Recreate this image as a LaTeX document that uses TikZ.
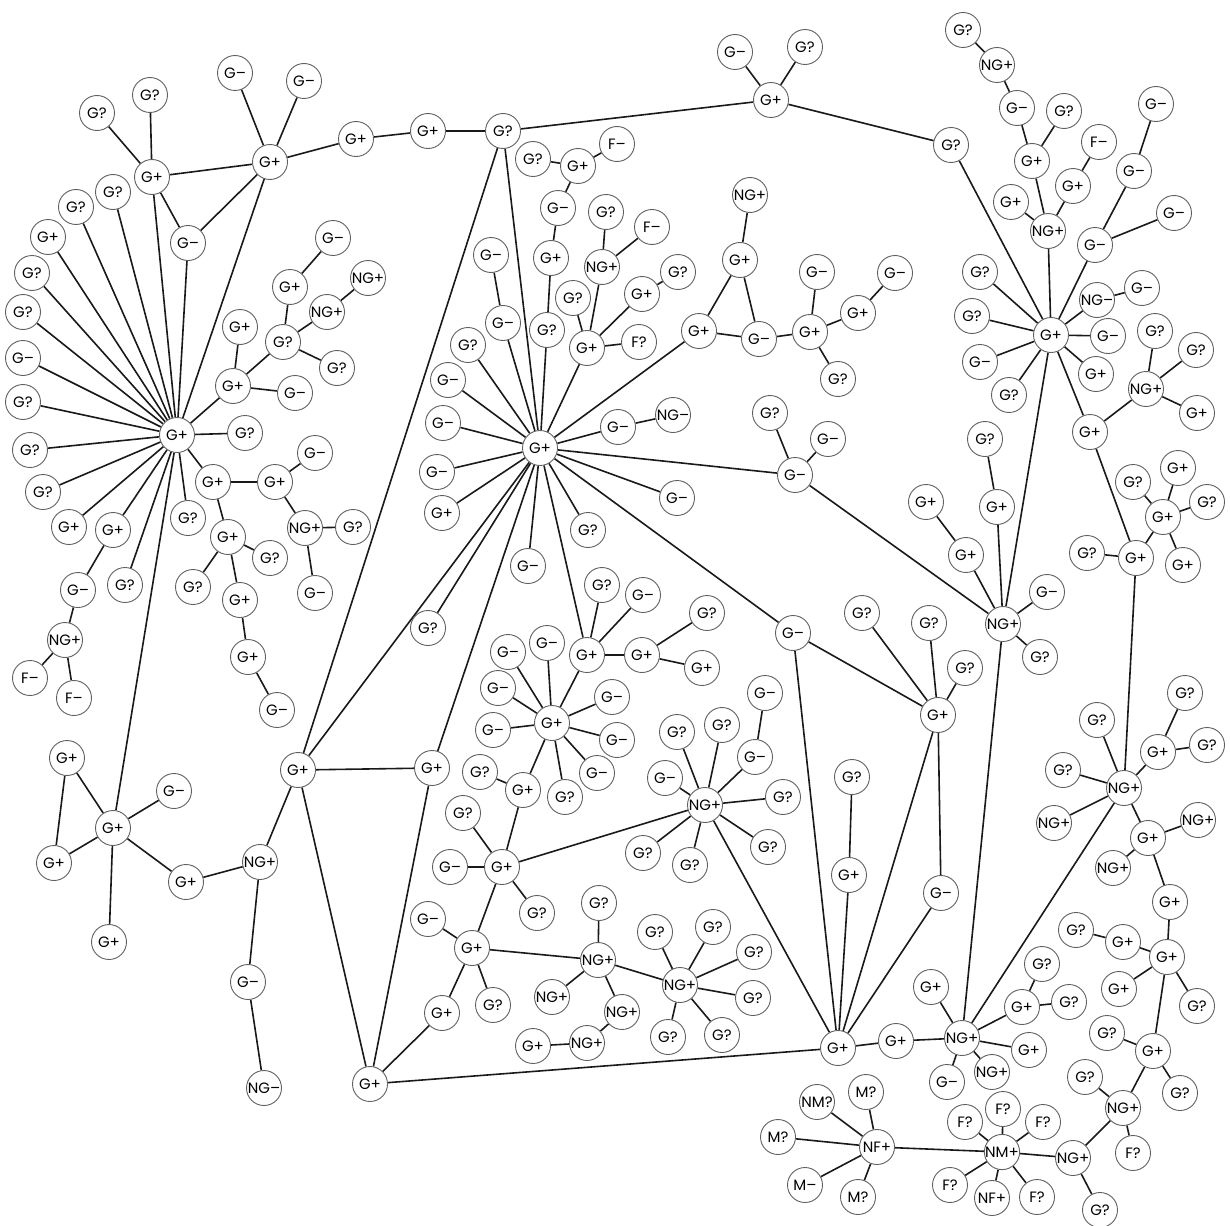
\documentclass[tikz,border=0pt]{standalone}
\usepackage{fontspec}
\setmainfont{Poppins}
\usetikzlibrary{backgrounds}

\begin{document}
\begin{tikzpicture}[x=1pt,y=-1pt,
  every node/.style={circle,draw=gray!75!black,line width=0.9pt,fill=white,minimum size=35pt,inner sep=0pt,font=\fontsize{15}{15}\selectfont},
  link/.style={line width=1.6pt,black!90}]
  \useasboundingbox (0,0) rectangle (1230,1225);
  % top left
  \node (a1) at (152,177) {G+};
  \node (a2) at (270,162) {G+};
  \node (aq1) at (97,113) {G?};
  \node (aq2) at (150,95) {G?};
  \node (am1) at (235,73) {G–};
  \node (am2) at (304,81) {G–};
  \node (am3) at (188,243) {G–};
  \node (ap1) at (356,139) {G+};
  \node (ap2) at (428,131) {G+};
  \node (top) at (503,131) {G?};
  \node (tr) at (771,100) {G+};
  \node (tr1) at (735,52) {G–};
  \node (tr2) at (805,47) {G?};
  \node (tr3) at (951,145) {G?};
  % left hub
  \node (hb) at (177,435) {G+};
  \node (b1) at (113,192) {G?};
  \node (b2) at (76,207) {G?};
  \node (b3) at (48,237) {G+};
  \node (b4) at (32,273) {G?};
  \node (b5) at (23,312) {G?};
  \node (b6) at (23,358) {G–};
  \node (b7) at (23,402) {G?};
  \node (b8) at (30,450) {G?};
  \node (b9) at (43,492) {G?};
  \node (b10) at (69,527) {G+};
  \node (b11) at (113,530) {G+};
  \node (b12) at (125,585) {G?};
  \node (b13) at (188,518) {G?};
  \node (b14) at (245,433) {G?};
  \node (b11a) at (78,590) {G–};
  \node (b11b) at (65,640) {NG+};
  \node (b11c) at (30,678) {F–};
  \node (b11d) at (74,698) {F–};
  \node (r1) at (233,386) {G+};
  \node (r2) at (240,327) {G+};
  \node (r3) at (283,342) {G?};
  \node (r4) at (290,287) {G+};
  \node (r5) at (333,238) {G–};
  \node (r6) at (327,312) {NG+};
  \node (r7) at (368,278) {NG+};
  \node (r8) at (337,368) {G?};
  \node (r9) at (295,393) {G–};
  \node (s1) at (213,482) {G+};
  \node (s2) at (275,482) {G+};
  \node (s3) at (315,453) {G–};
  \node (s4) at (305,528) {NG+};
  \node (s5) at (353,527) {G?};
  \node (s6) at (315,593) {G–};
  \node (s7) at (228,537) {G+};
  \node (s8) at (270,558) {G?};
  \node (s9) at (193,587) {G?};
  \node (s10) at (240,600) {G+};
  \node (s11) at (248,657) {G+};
  \node (s12) at (277,710) {G–};
  % bottom left
  \node (hc) at (113,828) {G+};
  \node (c1) at (67,758) {G+};
  \node (c2) at (54,863) {G+};
  \node (c3) at (174,791) {G–};
  \node (c4) at (186,882) {G+};
  \node (c5) at (109,942) {G+};
  \node (u1) at (260,862) {NG+};
  \node (u2) at (248,982) {G–};
  \node (u3) at (264,1088) {NG–};
  \node (v1) at (298,770) {G+};
  \node (v2) at (432,768) {G+};
  \node (v3) at (370,1084) {G+};
  % centre hub
  \node (hd) at (540,448) {G+};
  \node (d1) at (503,323) {G–};
  \node (d2) at (491,255) {G–};
  \node (d3) at (547,330) {G?};
  \node (d4) at (468,345) {G?};
  \node (d5) at (448,380) {G–};
  \node (d6) at (443,423) {G–};
  \node (d7) at (437,472) {G–};
  \node (d8) at (442,513) {G+};
  \node (d9) at (428,628) {G?};
  \node (d10) at (528,566) {G–};
  \node (d11) at (588,530) {G?};
  \node (d12) at (677,498) {G–};
  \node (d13) at (618,427) {G–};
  \node (d14) at (673,415) {NG–};
  \node (e1) at (551,258) {G+};
  \node (e2) at (558,208) {G–};
  \node (e3) at (578,166) {G+};
  \node (e4) at (533,159) {G?};
  \node (e5) at (617,144) {F–};
  \node (f1) at (587,348) {G+};
  \node (f2) at (639,342) {F?};
  \node (f3) at (573,298) {G?};
  \node (f4) at (602,267) {NG+};
  \node (f5) at (606,212) {G?};
  \node (f6) at (652,227) {F–};
  \node (f7) at (642,294) {G+};
  \node (f8) at (678,272) {G?};
  \node (g1) at (699,331) {G+};
  \node (g2) at (740,260) {G+};
  \node (g3) at (750,195) {NG+};
  \node (g4) at (759,339) {G–};
  \node (g5) at (810,332) {G+};
  \node (g6) at (817,272) {G–};
  \node (g7) at (858,313) {G+};
  \node (g8) at (895,273) {G–};
  \node (g9) at (838,379) {G?};
  \node (k1) at (795,475) {G–};
  \node (k2) at (770,413) {G?};
  \node (k3) at (828,439) {G–};
  \node (k4) at (793,633) {G–};
  % lower centre
  \node (w) at (587,655) {G+};
  \node (w1) at (602,585) {G?};
  \node (w2) at (643,595) {G–};
  \node (w3) at (642,655) {G+};
  \node (w4) at (707,613) {G?};
  \node (w5) at (702,668) {G+};
  \node (he) at (552,723) {G+};
  \node (x1) at (508,652) {G–};
  \node (x2) at (547,643) {G–};
  \node (x3) at (498,688) {G–};
  \node (x4) at (493,730) {G–};
  \node (x5) at (612,697) {G–};
  \node (x6) at (617,740) {G–};
  \node (x7) at (597,773) {G–};
  \node (x8) at (565,797) {G?};
  \node (x9) at (523,790) {G+};
  \node (x10) at (480,772) {G?};
  \node (y0) at (502,867) {G+};
  \node (y1) at (463,813) {G?};
  \node (y2) at (450,867) {G–};
  \node (y3) at (537,913) {G?};
  \node (z0) at (472,948) {G+};
  \node (z1) at (428,919) {G–};
  \node (z2) at (442,1013) {G+};
  \node (z3) at (493,1005) {G?};
  \node (n1) at (598,960) {NG+};
  \node (n2) at (599,903) {G?};
  \node (n3) at (552,997) {NG+};
  \node (n4) at (622,1012) {NG+};
  \node (n5) at (587,1043) {NG+};
  \node (n6) at (533,1046) {G+};
  \node (hm) at (680,985) {NG+};
  \node (m1) at (655,932) {G?};
  \node (m2) at (713,927) {G?};
  \node (m3) at (754,952) {G?};
  \node (m4) at (753,998) {G?};
  \node (m5) at (668,1037) {G?};
  \node (m6) at (722,1035) {G?};
  \node (hj) at (705,805) {NG+};
  \node (j1) at (677,732) {G?};
  \node (j2) at (722,725) {G?};
  \node (j3) at (755,757) {G–};
  \node (j4) at (765,693) {G–};
  \node (j5) at (665,778) {G–};
  \node (j6) at (783,797) {G?};
  \node (j7) at (768,847) {G?};
  \node (j8) at (690,865) {G?};
  \node (j9) at (643,853) {G?};
  \node (hi) at (938,715) {G+};
  \node (i1) at (862,613) {G?};
  \node (i2) at (929,623) {G?};
  \node (i3) at (965,668) {G?};
  \node (i4) at (941,893) {G–};
  \node (o1) at (852,777) {G?};
  \node (o2) at (849,875) {G+};
  \node (hg) at (838,1048) {G+};
  \node (q1) at (896,1041) {G+};
  \node (hn) at (962,1038) {NG+};
  \node (q2) at (931,987) {G+};
  \node (q3) at (1022,1007) {G+};
  \node (q4) at (1042,964) {G?};
  \node (q5) at (1069,1002) {G?};
  \node (q6) at (1029,1050) {G+};
  \node (q7) at (947,1082) {G–};
  \node (q8) at (992,1072) {NG+};
  % right column
  \node (hh) at (1051,335) {G+};
  \node (t1) at (963,30) {G?};
  \node (t2) at (997,65) {NG+};
  \node (t3) at (1017,108) {G–};
  \node (t4) at (1064,111) {G?};
  \node (t5) at (1032,161) {G+};
  \node (t6) at (1099,142) {F–};
  \node (t7) at (1073,186) {G+};
  \node (t8) at (1011,202) {G+};
  \node (t9) at (1048,231) {NG+};
  \node (t10) at (1156,104) {G–};
  \node (t11) at (1134,171) {G–};
  \node (t12) at (1174,213) {G–};
  \node (t13) at (1095,245) {G–};
  \node (h1) at (980,272) {G?};
  \node (h2) at (1097,300) {NG–};
  \node (h3) at (1142,288) {G–};
  \node (h4) at (972,316) {G?};
  \node (h5) at (1108,336) {G–};
  \node (h6) at (980,362) {G–};
  \node (h7) at (1009,395) {G?};
  \node (h8) at (1096,374) {G+};
  \node (h9) at (1090,432) {G+};
  \node (h10) at (1146,389) {NG+};
  \node (h11) at (1155,331) {G?};
  \node (h12) at (1196,350) {G?};
  \node (h13) at (1197,413) {G+};
  \node (hk) at (1003,624) {NG+};
  \node (k5) at (985,439) {G?};
  \node (k6) at (997,507) {G+};
  \node (k7) at (926,502) {G+};
  \node (k8) at (966,555) {G+};
  \node (k9) at (1047,592) {G–};
  \node (k10) at (1040,657) {G?};
  \node (p1) at (1136,558) {G+};
  \node (p2) at (1087,553) {G?};
  \node (p3) at (1163,517) {G+};
  \node (p4) at (1133,482) {G?};
  \node (p5) at (1178,468) {G+};
  \node (p6) at (1207,502) {G?};
  \node (p7) at (1183,565) {G+};
  \node (hl) at (1124,788) {NG+};
  \node (l1) at (1097,720) {G?};
  \node (l2) at (1063,770) {G?};
  \node (l3) at (1054,823) {NG+};
  \node (l4) at (1158,752) {G+};
  \node (l5) at (1185,693) {G?};
  \node (l6) at (1207,745) {G?};
  \node (l7) at (1148,838) {G+};
  \node (l8) at (1198,820) {NG+};
  \node (l9) at (1113,868) {NG+};
  \node (l10) at (1170,902) {G+};
  \node (br1) at (1167,957) {G+};
  \node (br2) at (1123,942) {G+};
  \node (br3) at (1076,930) {G?};
  \node (br4) at (1119,989) {G+};
  \node (br5) at (1197,1006) {G?};
  \node (br6) at (1153,1051) {G+};
  \node (br7) at (1107,1033) {G?};
  \node (br8) at (1180,1093) {G?};
  \node (br9) at (1123,1108) {NG+};
  \node (br10) at (1085,1077) {G?};
  \node (br11) at (1133,1153) {F?};
  \node (br12) at (1073,1158) {NG+};
  \node (br13) at (1100,1210) {G?};
  % bottom
  \node (nm) at (1002,1152) {NM+};
  \node (nm1) at (965,1122) {F?};
  \node (nm2) at (1003,1109) {F?};
  \node (nm3) at (1043,1122) {F?};
  \node (nm4) at (950,1185) {F?};
  \node (nm5) at (992,1198) {NF+};
  \node (nm6) at (1037,1197) {F?};
  \node (nf) at (877,1147) {NF+};
  \node (nf1) at (817,1102) {NM?};
  \node (nf2) at (866,1092) {M?};
  \node (nf3) at (778,1137) {M?};
  \node (nf4) at (805,1185) {M–};
  \node (nf5) at (858,1197) {M?};

  \begin{scope}[on background layer]
    \foreach \s/\t in {a1/aq1,a1/aq2,a1/a2,a1/am3,a1/hb,a2/am1,a2/am2,a2/ap1,a2/am3,a2/hb,
      ap1/ap2,ap2/top,top/tr,top/hd,top/v1,tr/tr1,tr/tr2,tr/tr3,tr3/hh,
      hb/b1,hb/b2,hb/b3,hb/b4,hb/b5,hb/b6,hb/b7,hb/b8,hb/b9,hb/b10,hb/b11,hb/b12,hb/b13,hb/b14,
      hb/am3,hb/r1,hb/s1,hb/hc,b11/b11a,b11a/b11b,b11b/b11c,b11b/b11d,
      r1/r2,r1/r3,r1/r9,r3/r4,r3/r6,r3/r8,r4/r5,r6/r7,
      s1/s2,s1/s7,s2/s3,s2/s4,s4/s5,s4/s6,s7/s8,s7/s9,s7/s10,s10/s11,s11/s12,
      hc/c1,hc/c2,hc/c3,hc/c4,hc/c5,c1/c2,c4/u1,u1/v1,u1/u2,u2/u3,
      v1/hd,v1/v2,v1/v3,v2/hd,v2/v3,v3/z2,v3/hg}
      \draw[link] (\s) -- (\t);
    \foreach \t in {d1,d3,d4,d5,d6,d7,d8,d9,d10,d11,d12,d13,f1,g1,k1,k4,w}
      \draw[link] (hd) -- (\t);
    \foreach \s/\t in {d1/d2,d3/e1,e1/e2,e2/e3,e3/e4,e3/e5,d13/d14,
      f1/f2,f1/f3,f1/f4,f1/f7,f4/f5,f4/f6,f7/f8,
      g1/g2,g1/g4,g2/g3,g2/g4,g4/g5,g5/g6,g5/g7,g5/g9,g7/g8,
      k1/k2,k1/k3,k1/hk,w/w1,w/w2,w/w3,w/he,w3/w4,w3/w5,
      x9/x10,x9/y0,y0/y1,y0/y2,y0/y3,y0/hj,y0/z0,
      z0/z1,z0/z2,z0/z3,z0/n1,n1/n2,n1/n3,n1/n4,n1/hm,n4/n5,n5/n6,
      j3/j4,hj/hg,k4/hi,k4/hg,hi/i1,hi/i2,hi/i3,hi/i4,hi/hg,i4/hg,
      o1/o2,o2/hg,hg/q1,q1/hn,hn/q2,hn/q3,hn/q6,hn/q7,hn/q8,hn/hk,hn/hl,q3/q4,q3/q5}
      \draw[link] (\s) -- (\t);
    \foreach \t in {x1,x2,x3,x4,x5,x6,x7,x8,x9}
      \draw[link] (he) -- (\t);
    \foreach \t in {m1,m2,m3,m4,m5,m6}
      \draw[link] (hm) -- (\t);
    \foreach \t in {j1,j2,j3,j5,j6,j7,j8,j9}
      \draw[link] (hj) -- (\t);
    \foreach \t in {t9,t13,h1,h2,h4,h5,h6,h7,h8,h9,hk}
      \draw[link] (hh) -- (\t);
    \foreach \s/\t in {t1/t2,t2/t3,t3/t5,t5/t4,t5/t9,t9/t7,t7/t6,t9/t8,t10/t11,t11/t13,t13/t12,
      h2/h3,h9/h10,h9/p1,h10/h11,h10/h12,h10/h13,
      hk/k6,hk/k8,hk/k9,hk/k10,k5/k6,k7/k8,
      p1/p2,p1/p3,p1/hl,p3/p4,p3/p5,p3/p6,p3/p7,
      hl/l1,hl/l2,hl/l3,hl/l4,hl/l7,l4/l5,l4/l6,l7/l8,l7/l9,l7/l10,
      l10/br1,br1/br2,br1/br4,br1/br5,br1/br6,br2/br3,br6/br7,br6/br8,br6/br9,
      br9/br10,br9/br11,br9/br12,br12/br13,br12/nm}
      \draw[link] (\s) -- (\t);
    \foreach \t in {nm1,nm2,nm3,nm4,nm5,nm6,nf}
      \draw[link] (nm) -- (\t);
    \foreach \t in {nf1,nf2,nf3,nf4,nf5}
      \draw[link] (nf) -- (\t);
  \end{scope}
\end{tikzpicture}
\end{document}
